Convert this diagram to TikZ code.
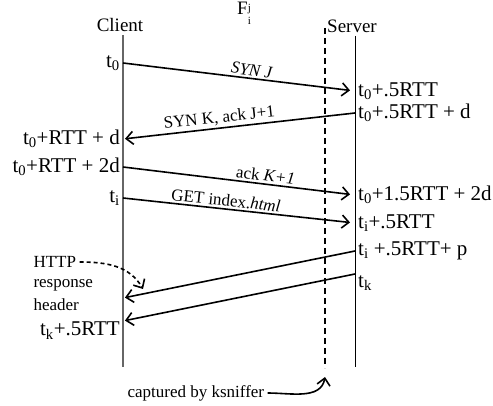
\documentclass[tikz,border=0pt]{standalone}
\usepackage{fontspec}
\setmainfont{Liberation Serif}
\usetikzlibrary{arrows.meta}
\begin{document}
\begin{tikzpicture}[x=1pt,y=-1pt,
  big/.style={font=\fontsize{21}{24}\selectfont},
  mid/.style={font=\fontsize{17}{20}\selectfont},
  head/.style={font=\fontsize{19}{22}\selectfont},
  cl/.style={big,anchor=east,inner xsep=3pt},
  sv/.style={big,anchor=west,inner xsep=3pt},
  msg/.style={-{Straight Barb[length=7pt,width=13pt,line width=1.6pt]},line width=1.6pt,shorten >=2pt},
  tosrv/.style={msg,shorten >=5pt},
  lbl/.style={mid,sloped,above,inner sep=2pt}]
  \useasboundingbox (0,0) rectangle (493,406);

  \node[head] (client) at (120,25) {Client};
  \node[head] (server) at (352,26) {Server};
  \node[head] (flow) at (244,13) {F\raisebox{-1.1ex}{\fontsize{11}{11}\selectfont\shortstack[l]{j\\i}}};

  \coordinate (cbot) at (123,367);
  \coordinate (sbot) at (355,367);
  \coordinate (dtop) at (325,28);
  \coordinate (dbot) at (325,368);
  \draw[line width=1.5pt,black!60] (cbot |- client.south) -- (cbot);
  \draw[line width=0.9pt] (sbot |- server.south) -- (sbot);
  \draw[line width=2pt,dash pattern=on 6pt off 4pt] (dtop) -- (dbot);

  \node[cl] (t0) at (123,63) {t\textsubscript{0}};
  \node[cl] (t0rd) at (123,139) {t\textsubscript{0}+RTT + d};
  \node[cl] (t0r2d) at (123,167) {t\textsubscript{0}+RTT + 2d};
  \node[cl] (ti) at (123,198) {t\textsubscript{i}};
  \coordinate (hdrend) at (123,298);
  \node[cl,anchor=north east,inner ysep=1pt] (tk5) at (123,321) {t\textsubscript{k}+.5RTT};

  \node[sv] (s1) at (355,91) {t\textsubscript{0}+.5RTT};
  \node[sv] (s2) at (355,113) {t\textsubscript{0}+.5RTT + d};
  \node[sv] (s3) at (355,195) {t\textsubscript{0}+1.5RTT + 2d};
  \node[sv] (s4) at (355,223) {t\textsubscript{i}+.5RTT};
  \node[sv] (s5) at (355,251) {t\textsubscript{i} +.5RTT+ p};
  \node[sv,anchor=north west,inner ysep=1pt] (s6) at (355,274) {t\textsubscript{k}};

  \draw[tosrv] (t0.east) -- node[lbl,pos=0.55] {\itshape SYN J} (s1.west);
  \draw[msg] (s2.west) -- node[lbl,pos=0.58] {SYN K, ack J+1} (t0rd.east);
  \draw[tosrv] (t0r2d.east) -- node[lbl,pos=0.61] {ack \textit{K+1}} (s3.west);
  \draw[tosrv] (ti.east) -- node[lbl,pos=0.44] {GET index.\textit{html}} (s4.west);
  \draw[msg] (s5.west) -- (hdrend);
  \draw[msg] (s6.north west) -- (tk5.north east);

  \node[mid,anchor=west] (http) at (30,262) {HTTP};
  \node[mid,anchor=west] (resp) at (30,285) {response};
  \node[mid,anchor=west] (hdr) at (30,305) {header};
  \coordinate (hdrtip) at (143,289);
  \draw[msg,shorten >=0pt,dash pattern=on 4pt off 3pt] (http.east) to[out=0,in=120] (hdrtip);

  \node[mid,anchor=west] (capt) at (124,393) {captured by ksniffer};
  \coordinate (sniff) at (325,377);
  \draw[msg,shorten >=0pt] (capt.east) to[out=0,in=-100] (sniff);
\end{tikzpicture}
\end{document}
